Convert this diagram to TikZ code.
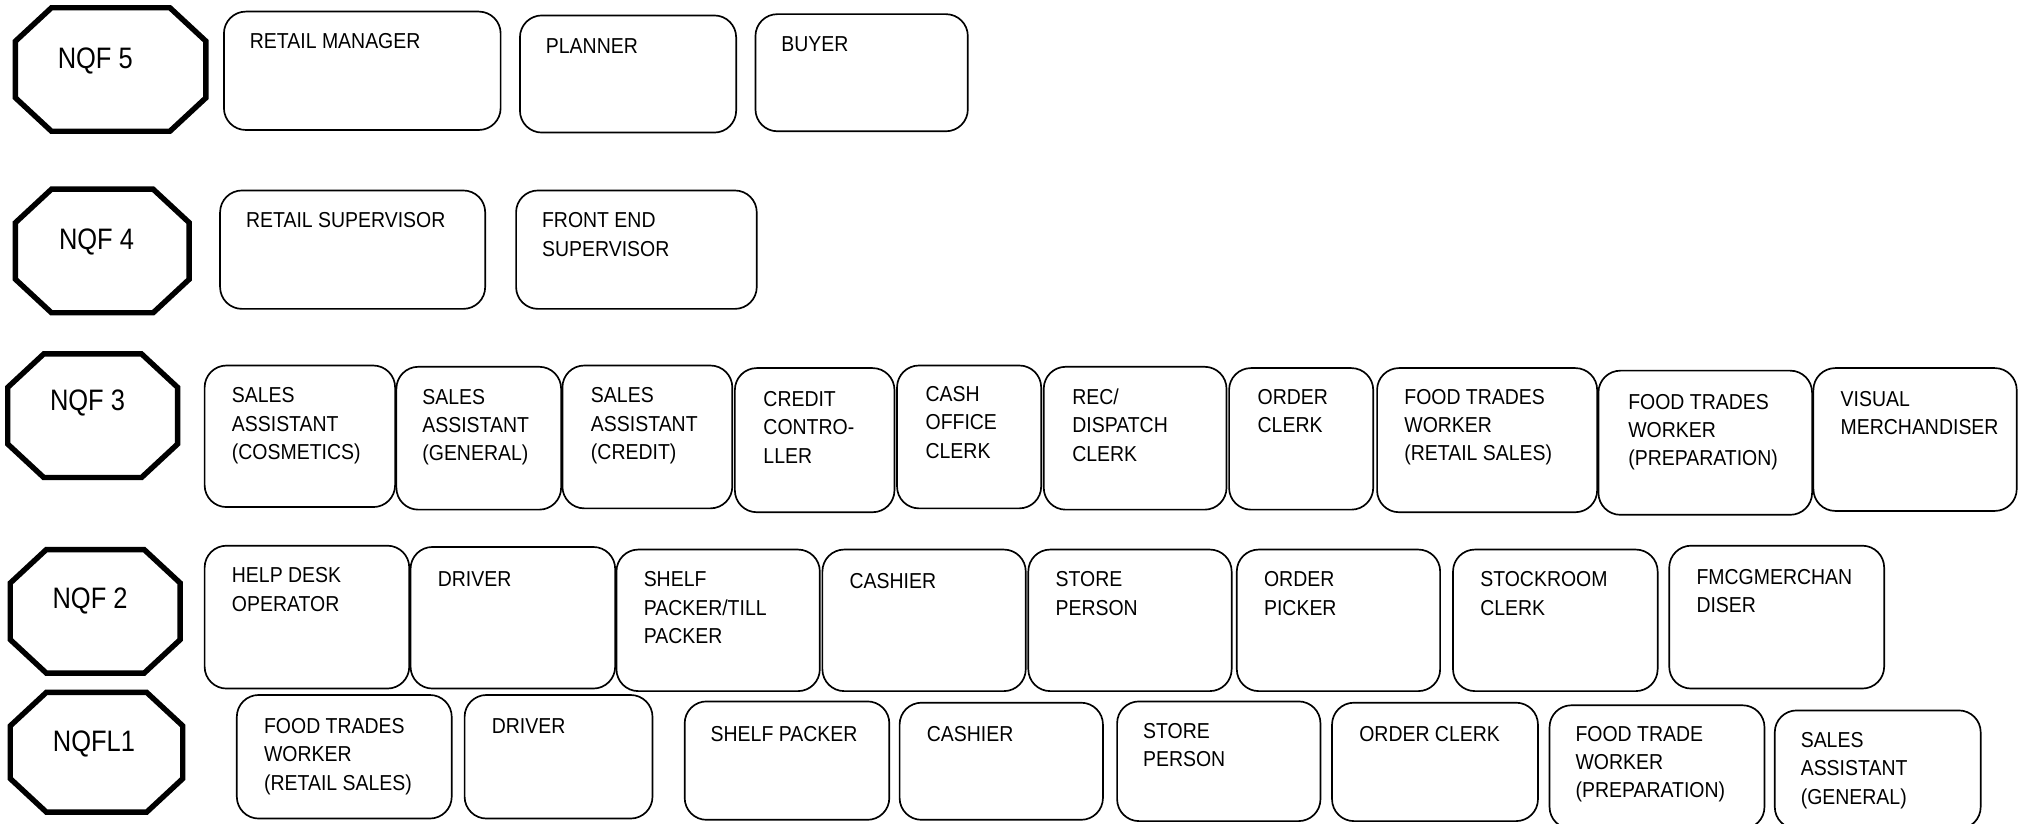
\documentclass[tikz,border=0pt]{standalone}
\usepackage{fontspec}
\setmainfont{Liberation Sans}
\newfontfamily\jobfont{Liberation Sans}[FakeStretch=0.9]
\newfontfamily\levelfont{Liberation Sans}[FakeStretch=0.86]
\usepackage{tikz}
\usetikzlibrary{fit}

\begin{document}
\begin{tikzpicture}[x=1pt, y=-1pt,
    job/.style={draw, line width=1.3pt, rounded corners=17pt, inner sep=0pt, outer sep=0pt},
    jobtxt/.style={anchor=north west, align=left, inner sep=0pt, font=\jobfont\fontsize{16.8}{22}\selectfont},
    level/.style={line width=4.2pt},
    leveltxt/.style={inner sep=0pt, font=\levelfont\fontsize{23}{26}\selectfont}]
            \useasboundingbox (0,0) rectangle (1568,640);

            % NQF 5
            \draw[level] (40,6) -- (132,6) -- (160,32) -- (160,76) -- (132,102) -- (40,102) -- (12,76) -- (12,32) -- cycle;
            \node[leveltxt] (n5) at (74,47) {NQF 5};
            \node[job, fit={(174,9) (389,101)}] (rm) {};
            \node[jobtxt] (rm-t) at (194,26) {RETAIL MANAGER};
            \node[job, fit={(404,12) (572,103)}] (plan) {};
            \node[jobtxt] (plan-t) at (424,30) {PLANNER};
            \node[job, fit={(587,11) (752,102)}] (buy) {};
            \node[jobtxt] (buy-t) at (607,28) {BUYER};

            % NQF 4
            \draw[level] (40,147) -- (119,147) -- (147,173) -- (147,217) -- (119,243) -- (40,243) -- (12,217) -- (12,173) -- cycle;
            \node[leveltxt] (n4) at (75,188) {NQF 4};
            \node[job, fit={(171,148) (377,240)}] (rsup) {};
            \node[jobtxt] (rsup-t) at (191,165) {RETAIL SUPERVISOR};
            \node[job, fit={(401,148) (588,240)}] (fes) {};
            \node[jobtxt] (fes-t) at (421,165) {FRONT END\\SUPERVISOR};

            % NQF 3
            \draw[level] (34,275) -- (110,275) -- (138,301) -- (138,345) -- (110,371) -- (34,371) -- (6,345) -- (6,301) -- cycle;
            \node[leveltxt] (n3) at (68,313) {NQF 3};
            \node[job, fit={(159,284) (307,394)}] (sacos) {};
            \node[jobtxt] (sacos-t) at (180,301) {SALES\\ASSISTANT\\(COSMETICS)};
            \node[job, fit={(308,285) (436,396)}] (sagen) {};
            \node[jobtxt] (sagen-t) at (328,302) {SALES\\ASSISTANT\\(GENERAL)};
            \node[job, fit={(437,284) (569,395)}] (sacred) {};
            \node[jobtxt] (sacred-t) at (459,301) {SALES\\ASSISTANT\\(CREDIT)};
            \node[job, fit={(571,286) (695,398)}] (cred) {};
            \node[jobtxt] (cred-t) at (593,304) {CREDIT\\CONTRO-\\LLER};
            \node[job, fit={(697,284) (809,395)}] (cash) {};
            \node[jobtxt] (cash-t) at (719,300) {CASH\\OFFICE\\CLERK};
            \node[job, fit={(811,285) (953,396)}] (rec) {};
            \node[jobtxt] (rec-t) at (833,302) {REC/\\DISPATCH\\CLERK};
            \node[job, fit={(955,286) (1067,396)}] (ord) {};
            \node[jobtxt] (ord-t) at (977,302) {ORDER\\CLERK};
            \node[job, fit={(1070,286) (1241,398)}] (ftrs) {};
            \node[jobtxt] (ftrs-t) at (1091,302) {FOOD TRADES\\WORKER\\(RETAIL SALES)};
            \node[job, fit={(1242,288) (1408,400)}] (ftprep) {};
            \node[jobtxt] (ftprep-t) at (1265,306) {FOOD TRADES\\WORKER\\(PREPARATION)};
            \node[job, fit={(1409,286) (1567,397)}] (vis) {};
            \node[jobtxt] (vis-t) at (1430,304) {VISUAL\\MERCHANDISER};

            % NQF 2
            \draw[level] (36,427) -- (112,427) -- (140,453) -- (140,497) -- (112,523) -- (36,523) -- (8,497) -- (8,453) -- cycle;
            \node[leveltxt] (n2) at (70,467) {NQF 2};
            \node[job, fit={(159,424) (318,535)}] (help) {};
            \node[jobtxt] (help-t) at (180,441) {HELP DESK\\OPERATOR};
            \node[job, fit={(319,425) (478,535)}] (drv) {};
            \node[jobtxt] (drv-t) at (340,444) {DRIVER};
            \node[job, fit={(479,427) (637,537)}] (shelf) {};
            \node[jobtxt] (shelf-t) at (500,444) {SHELF\\PACKER/TILL\\PACKER};
            \node[job, fit={(639,427) (797,537)}] (cshr) {};
            \node[jobtxt] (cshr-t) at (660,445) {CASHIER};
            \node[job, fit={(799,427) (957,537)}] (store) {};
            \node[jobtxt] (store-t) at (820,444) {STORE\\PERSON};
            \node[job, fit={(961,427) (1119,537)}] (pick) {};
            \node[jobtxt] (pick-t) at (982,444) {ORDER\\PICKER};
            \node[job, fit={(1129,427) (1288,537)}] (stock) {};
            \node[jobtxt] (stock-t) at (1150,444) {STOCKROOM\\CLERK};
            \node[job, fit={(1297,424) (1464,535)}] (fmcg) {};
            \node[jobtxt] (fmcg-t) at (1318,442) {FMCGMERCHAN\\DISER};

            % NQFL1
            \draw[level] (36,538) -- (114,538) -- (142,564) -- (142,605) -- (114,631) -- (36,631) -- (8,605) -- (8,564) -- cycle;
            \node[leveltxt] (n1) at (73,578) {NQFL1};
            \node[job, fit={(184,540) (351,636)}] (ftrs1) {};
            \node[jobtxt] (ftrs1-t) at (205,558) {FOOD TRADES\\WORKER\\(RETAIL SALES)};
            \node[job, fit={(361,540) (507,636)}] (drv1) {};
            \node[jobtxt] (drv1-t) at (382,558) {DRIVER};
            \node[job, fit={(532,545) (691,637)}] (shelf1) {};
            \node[jobtxt] (shelf1-t) at (552,564) {SHELF PACKER};
            \node[job, fit={(699,546) (857,637)}] (cshr1) {};
            \node[jobtxt] (cshr1-t) at (720,564) {CASHIER};
            \node[job, fit={(868,545) (1026,638)}] (store1) {};
            \node[jobtxt] (store1-t) at (888,562) {STORE\\PERSON};
            \node[job, fit={(1035,546) (1195,638)}] (ord1) {};
            \node[jobtxt] (ord1-t) at (1056,564) {ORDER CLERK};
            \node[job, fit={(1204,548) (1371,644)}] (ftprep1) {};
            \node[jobtxt] (ftprep1-t) at (1224,564) {FOOD TRADE\\WORKER\\(PREPARATION)};
            \node[job, fit={(1379,552) (1539,644)}] (sagen1) {};
            \node[jobtxt] (sagen1-t) at (1399,569) {SALES\\ASSISTANT\\(GENERAL)};
\end{tikzpicture}
\end{document}
